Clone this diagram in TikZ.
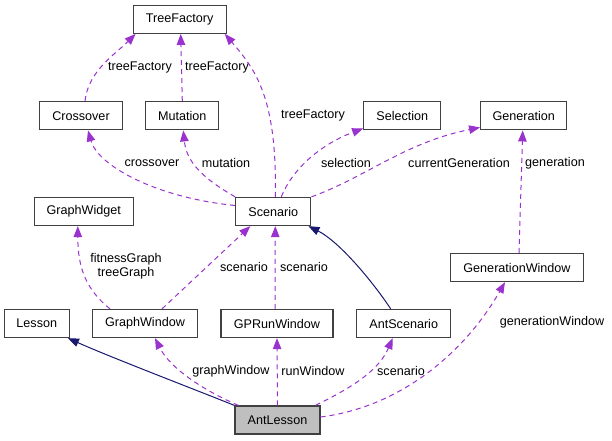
\documentclass[tikz,border=0pt]{standalone}
\usepackage{fontspec}
\setmainfont{Liberation Sans}
\usetikzlibrary{arrows.meta}
\definecolor{usepurple}{HTML}{9A32CD}
\definecolor{basenavy}{HTML}{191970}
\definecolor{boxline}{HTML}{404040}
\definecolor{boxgrey}{HTML}{BFBFBF}

\begin{document}
\begin{tikzpicture}[x=1pt, y=1pt, every node/.style={font=\fontsize{12.6}{14.5}\selectfont}]
\tikzset{
  cls/.style={draw=boxline, line width=1.3pt, minimum height=28pt, inner sep=0pt, fill=white},
  uses/.style={draw=usepurple, line width=1pt, dash pattern=on 5pt off 4pt, -{Triangle[length=11pt,width=8.5pt]}},
  inherits/.style={draw=basenavy, line width=1pt, -{Triangle[length=11pt,width=8.5pt]}},
  lbl/.style={inner sep=0pt, align=center}
}

\useasboundingbox (0,0) rectangle (612,440);

% Nodes
\node[cls, minimum width=93pt] (treeF) at (179.7,420.7) {TreeFactory};
\node[cls, minimum width=83pt] (crossover) at (81,324.2) {Crossover};
\node[cls, minimum width=73pt] (mutation) at (182.3,324.2) {Mutation};
\node[cls, minimum width=77pt] (selection) at (402.3,324.2) {Selection};
\node[cls, minimum width=86pt] (generation) at (523.7,324.2) {Generation};
\node[cls, minimum width=99pt] (graphWidget) at (83.8,228.5) {GraphWidget};
\node[cls, minimum width=75pt] (scenario) at (273.3,228.5) {Scenario};
\node[cls, minimum width=133pt] (genWindow) at (517,172.5) {GenerationWindow};
\node[cls, minimum width=65pt] (lesson) at (36.8,116.5) {Lesson};
\node[cls, minimum width=105pt] (graphWindow) at (145,116.5) {GraphWindow};
\node[cls, minimum width=112pt] (gpRun) at (277,116.5) {GPRunWindow};
\node[cls, minimum width=94pt] (antScenario) at (403.7,116.5) {AntScenario};
\node[cls, minimum width=85pt, fill=boxgrey] (antLesson) at (277.5,20) {AntLesson};

% Labels
\node[lbl] (lTree1) at (140,373) {treeFactory};
\node[lbl] (lTree2) at (217,373) {treeFactory};
\node[lbl] (lTree3) at (313,325) {treeFactory};
\node[lbl] (lCross) at (152,277) {crossover};
\node[lbl] (lMut) at (226,277) {mutation};
\node[lbl] (lSel) at (346,277) {selection};
\node[lbl] (lCur) at (459,277) {currentGeneration};
\node[lbl] (lGen) at (555,277) {generation};
\node[lbl] (lGraphs) at (126,174) {fitnessGraph\\treeGraph};
\node[lbl] (lScen1) at (244,173) {scenario};
\node[lbl] (lScen2) at (304,173) {scenario};
\node[lbl] (lGW) at (231,69) {graphWindow};
\node[lbl] (lRun) at (313,69) {runWindow};
\node[lbl] (lScen3) at (401,69) {scenario};
\node[lbl] (lGenW) at (552,118) {generationWindow};

% Arrows
\draw[uses] ([xshift=4pt]crossover.north) .. controls +(3,30) and +(-20,-20) .. ([xshift=3pt]treeF.south west);
\draw[uses] (mutation.north) -- ([xshift=1pt]treeF.south);
\draw[uses] ([xshift=2pt]scenario.north) .. controls +(2,100) and +(30,-35) .. ([xshift=-2pt]treeF.south east);
\draw[uses] ([yshift=6pt]scenario.west) .. controls +(-80,8) and +(10,-35) .. ([xshift=7pt]crossover.south);
\draw[uses] (scenario.north west) .. controls +(-35,20) and +(3,-30) .. ([xshift=1pt]mutation.south);
\draw[uses] ([xshift=8pt]scenario.north) .. controls +(12,30) and +(-40,-15) .. ([yshift=2pt]selection.south west);
\draw[uses] (scenario.north east) .. controls +(55,20) and +(-75,-15) .. ([yshift=3pt]generation.south west);
\draw[uses] ([xshift=2pt]genWindow.north) -- ([xshift=-1pt]generation.south);
\draw[uses] ([xshift=-35pt]graphWindow.north) .. controls +(-25,20) and +(0,-40) .. ([xshift=-6pt]graphWidget.south);
\draw[uses] ([xshift=17pt]graphWindow.north) -- ([xshift=-23pt]scenario.south);
\draw[uses] ([xshift=-2pt]gpRun.north) -- ([xshift=2pt]scenario.south);
\draw[inherits] ([xshift=-13pt]antScenario.north) .. controls +(-20,30) and +(30,-15) .. ([xshift=-3pt]scenario.south east);
\draw[inherits] (antLesson.north west) .. controls +(-40,16) and +(40,-18) .. ([xshift=-2pt]lesson.south east);
\draw[uses] ([xshift=4pt]antLesson.north west) .. controls +(-35,15) and +(15,-30) .. ([xshift=10pt]graphWindow.south);
\draw[uses] (antLesson.north) -- (gpRun.south);
\draw[uses] ([xshift=-5pt]antLesson.north east) .. controls +(30,15) and +(-15,-35) .. ([xshift=-11pt]antScenario.south);
\draw[uses] ([yshift=3pt]antLesson.east) .. controls +(80,10) and +(-40,-70) .. ([xshift=-12pt]genWindow.south);
\end{tikzpicture}
\end{document}
